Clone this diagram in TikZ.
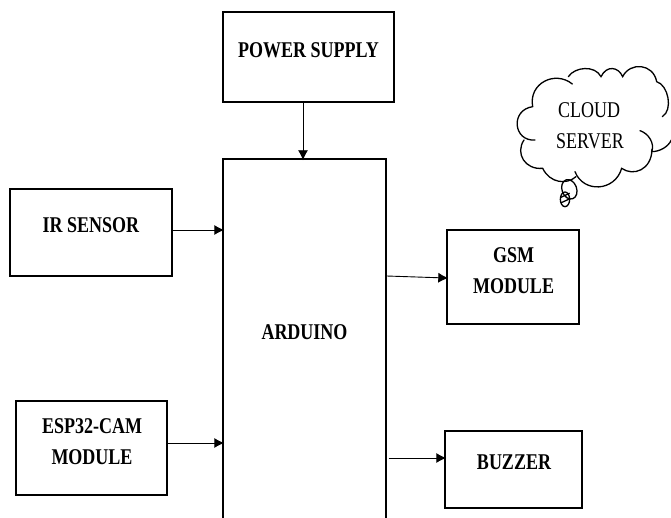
\documentclass[tikz,border=0pt]{standalone}
\usepackage{fontspec}
\setmainfont{Liberation Serif}
\newfontfamily\labelfont[FakeStretch=0.8]{Liberation Serif}
\usetikzlibrary{arrows.meta}

\begin{document}
\begin{tikzpicture}[>={Latex[length=10pt,width=10pt]},x=1pt,y=1pt,
  block/.style={draw,line width=1.4pt,inner sep=0pt},
  boxtext/.style={align=center,inner sep=0pt,font=\labelfont\fontsize{22.5}{31}\selectfont\bfseries},
  cloudtext/.style={inner sep=0pt,font=\labelfont\fontsize{22.5}{27}\selectfont},
  link/.style={->,line width=0.9pt,shorten >=-2pt},
  cloudline/.style={line width=1.3pt,line cap=round}]
\useasboundingbox (0,0) rectangle (671,-518);
\clip (0,0) rectangle (671,-518);
\node[block,minimum width=171pt,minimum height=90pt] (power) at (308.5,-57) {};
\node[block,minimum width=163pt,minimum height=390pt] (arduino) at (304.5,-354) {};
\node[block,minimum width=162pt,minimum height=87pt] (irsensor) at (91,-232.5) {};
\node[block,minimum width=151pt,minimum height=94pt] (espcam) at (91.5,-448) {};
\node[block,minimum width=132pt,minimum height=94pt] (gsm) at (513,-277) {};
\node[block,minimum width=137pt,minimum height=77pt] (buzzer) at (513.5,-469.5) {};
\node[boxtext] (powertext) at (308.5,-50) {POWER SUPPLY};
\node[boxtext] (arduinotext) at (304.5,-332) {ARDUINO};
\node[boxtext] (irsensortext) at (91,-225) {IR SENSOR};
\node[boxtext] (espcamtext) at (92,-441.5) {ESP32-CAM\\MODULE};
\node[boxtext] (gsmtext) at (513.5,-270.5) {GSM\\MODULE};
\node[boxtext] (buzzertext) at (514,-462) {BUZZER};
\draw[link] ([xshift=-5.5pt]power.south) -- ([xshift=-5.5pt]power.south |- arduino.north);
\draw[link] ([yshift=2.5pt]irsensor.east) -- ([yshift=2.5pt]irsensor.east -| arduino.west);
\draw[link] ([yshift=5pt]espcam.east) -- ([yshift=5pt]espcam.east -| arduino.west);
\draw[link] ([yshift=1pt]arduino.east |- gsm.west) -- ([yshift=-1pt]gsm.west);
\draw[link] ([xshift=2pt,yshift=11.5pt]arduino.east |- buzzer.west) -- ([yshift=11.5pt]buzzer.west);
% cloud outline
\begin{scope}[shift={(500,-60)},x=0.3333pt,y=-0.3333pt,cloudline]
\draw (105,240) .. controls (40,245) and (30,150) .. (98,140)
  .. controls (85,70) and (165,30) .. (217,72);
\draw (205,50) .. controls (225,20) and (285,15) .. (303,50)
  .. controls (320,15) and (355,20) .. (368,50)
  .. controls (390,5) and (460,10) .. (470,65)
  .. controls (505,75) and (520,150) .. (487,170);
\draw (420,212) .. controls (445,220) and (465,250) .. (455,275)
  .. controls (480,275) and (505,260) .. (514,240);
\draw (456,268) .. controls (455,330) and (400,350) .. (365,325)
  .. controls (345,395) and (250,400) .. (225,335);
\draw (228,350) .. controls (200,375) and (150,370) .. (128,325)
  .. controls (75,330) and (45,280) .. (72,240);
\draw[rotate around={20:(208,388)}] (208,388) ellipse (22 and 30);
\draw (195,418) ellipse (14 and 22);
\draw (183,412) -- (208,400);
\draw (184,428) -- (206,418);
\end{scope}
\node[cloudtext] (cloudtop) at (589,-110.5) {CLOUD};
\node[cloudtext] (cloudbottom) at (590,-141) {SERVER};
\end{tikzpicture}
\end{document}
